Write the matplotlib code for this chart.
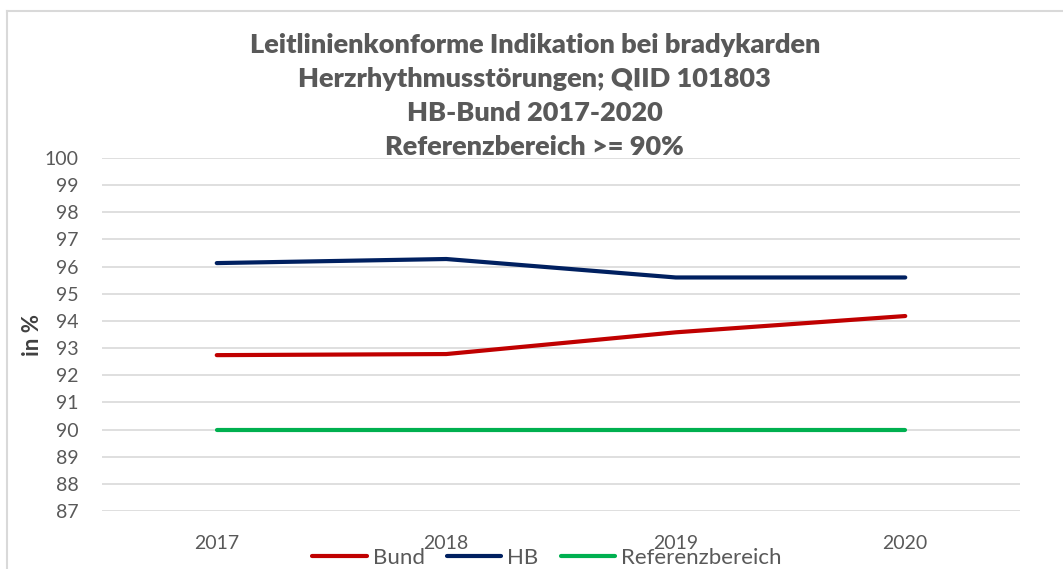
import matplotlib.pyplot as plt
from matplotlib.lines import Line2D

# Data
years = ["2017", "2018", "2019", "2020"]
bund = [92.74, 92.78, 93.58, 94.18]
hb = [96.13, 96.28, 95.60, 95.60]
referenz = [90, 90, 90, 90]

plt.rcParams['font.family'] = ['Lato', 'DejaVu Sans']

fig = plt.figure(figsize=(10.63, 5.69), dpi=100)
ax = fig.add_axes([102 / 1063, 1 - 511 / 569, (1020 - 102) / 1063, (511 - 158) / 569])

x = range(len(years))
ax.plot(x, bund, color='#C00000', lw=3, label='Bund', solid_capstyle='round')
ax.plot(x, hb, color='#002060', lw=3, label='HB', solid_capstyle='round')
ax.plot(x, referenz, color='#00B050', lw=3, label='Referenzbereich', solid_capstyle='round')

ax.set_xlim(-0.5, 3.5)
ax.set_ylim(87, 100)
ax.set_yticks(range(87, 101))
ax.set_xticks(list(x))
ax.set_xticklabels(years)
ax.grid(axis='y', color='#D9D9D9', lw=1.2)
ax.set_axisbelow(True)
for s in ax.spines.values():
    s.set_visible(False)
ax.tick_params(length=0, labelsize=14, labelcolor='#595959')
ax.tick_params(axis='y', pad=17)
ax.tick_params(axis='x', pad=17)

ax.set_ylabel('in %', fontsize=16, fontweight='bold', color='#404040', labelpad=1)

fig.text(0.503, 1 - 96 / 569, "Leitlinienkonforme Indikation bei bradykarden\nHerzrhythmusstörungen; QIID 101803\nHB-Bund 2017-2020\nReferenzbereich >= 90%",
         ha='center', va='center', fontsize=19.5, fontweight='heavy', color='#595959', linespacing=1.5)

fig.legend(loc='center', bbox_to_anchor=(0.5146, 1 - 558 / 569), ncol=3, frameon=False,
           fontsize=16, labelcolor='#595959', handlelength=2.45, columnspacing=1.0,
           handletextpad=0.27)

# partial chart border
fig.add_artist(Line2D([7 / 1063, 7 / 1063], [0, 1 - 11 / 569], color='#D9D9D9', lw=1.5))
fig.add_artist(Line2D([7 / 1063, 1], [1 - 11 / 569, 1 - 11 / 569], color='#D9D9D9', lw=1.5))

fig.savefig('out.png', dpi=100)
